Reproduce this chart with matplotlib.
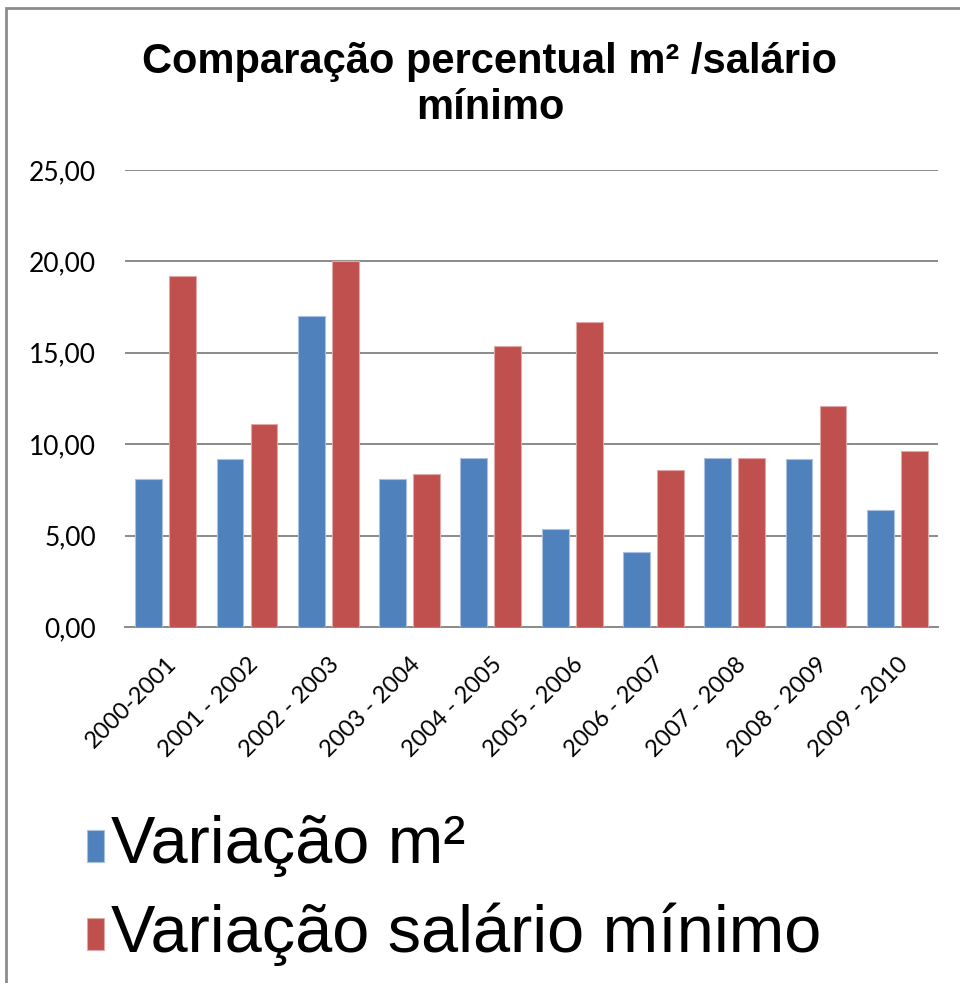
import numpy as np
import matplotlib.pyplot as plt
from matplotlib.patches import Rectangle
from matplotlib import font_manager

periodos = ['2000-2001', '2001 - 2002', '2002 - 2003', '2003 - 2004', '2004 - 2005',
            '2005 - 2006', '2006 - 2007', '2007 - 2008', '2008 - 2009', '2009 - 2010']
variacao_m2 = [8.10, 9.19, 17.00, 8.10, 9.24, 5.36, 4.10, 9.24, 9.19, 6.40]
variacao_salario = [19.20, 11.10, 20.00, 8.37, 15.37, 16.70, 8.60, 9.24, 12.09, 9.63]
y_ticks = [0, 5, 10, 15, 20, 25]

nomes = {f.name for f in font_manager.fontManager.ttflist}
narrow = 'Liberation Sans Narrow' if 'Liberation Sans Narrow' in nomes else 'Liberation Sans'

W, H = 960, 983
fig = plt.figure(figsize=(W / 100, H / 100), dpi=100)

# moldura cinza
fig.patches.append(Rectangle((6 / W, -0.1), 1.2, 1 - 8 / H + 0.1, transform=fig.transFigure,
                             fill=False, edgecolor='#8c8c8c', linewidth=2))

ax = fig.add_axes([125 / W, 1 - 627 / H, (938 - 125) / W, (627 - 170) / H])

x = np.arange(len(periodos))
larg = 0.33
desl = 0.209
ax.bar(x - desl, variacao_m2, larg, color='#4F81BD', edgecolor='#a9c0e0', linewidth=0.8, zorder=3)
ax.bar(x + desl, variacao_salario, larg, color='#C0504D', edgecolor='#e0a9a7', linewidth=0.8, zorder=3)

ax.set_xlim(-0.5, len(periodos) - 0.5)
ax.set_ylim(0, 25)
ax.set_yticks(y_ticks)
ax.set_yticklabels([f'{v:.2f}'.replace('.', ',') for v in y_ticks], fontsize=19, family='Lato')
ax.yaxis.grid(True, color='#8a8a8a', linewidth=1.4, zorder=0)
ax.set_xticks(x)
ax.set_xticklabels(periodos, rotation=45, ha='right', rotation_mode='anchor',
                   fontsize=17, family='Lato')
ax.tick_params(axis='both', length=0)
ax.tick_params(axis='y', pad=21)
ax.tick_params(axis='x', pad=19)
for s in ['top', 'right', 'left']:
    ax.spines[s].set_visible(False)
ax.spines['bottom'].set_color('#8a8a8a')
ax.spines['bottom'].set_linewidth(1.4)

fig.text(490 / W, 1 - 62 / H, 'Comparação percentual m² /salário', ha='center', va='center',
         fontsize=30, fontweight='bold', family=narrow)
fig.text(490 / W, 1 - 108 / H, 'mínimo', ha='center', va='center',
         fontsize=30, fontweight='bold', family=narrow)

# legenda
fig.patches.append(Rectangle((87 / W, 1 - 862 / H), 17 / W, 32 / H, transform=fig.transFigure,
                             facecolor='#4F81BD', edgecolor='#a9c0e0', linewidth=0.8))
fig.patches.append(Rectangle((87 / W, 1 - 950 / H), 17 / W, 32 / H, transform=fig.transFigure,
                             facecolor='#C0504D', edgecolor='#e0a9a7', linewidth=0.8))
fig.text(111 / W, 1 - 846 / H, 'Variação m²', ha='left', va='center', fontsize=48, family=narrow)
fig.text(111 / W, 1 - 934 / H, 'Variação salário mínimo', ha='left', va='center', fontsize=48,
         family=narrow)

fig.savefig('out.png', dpi=100)
